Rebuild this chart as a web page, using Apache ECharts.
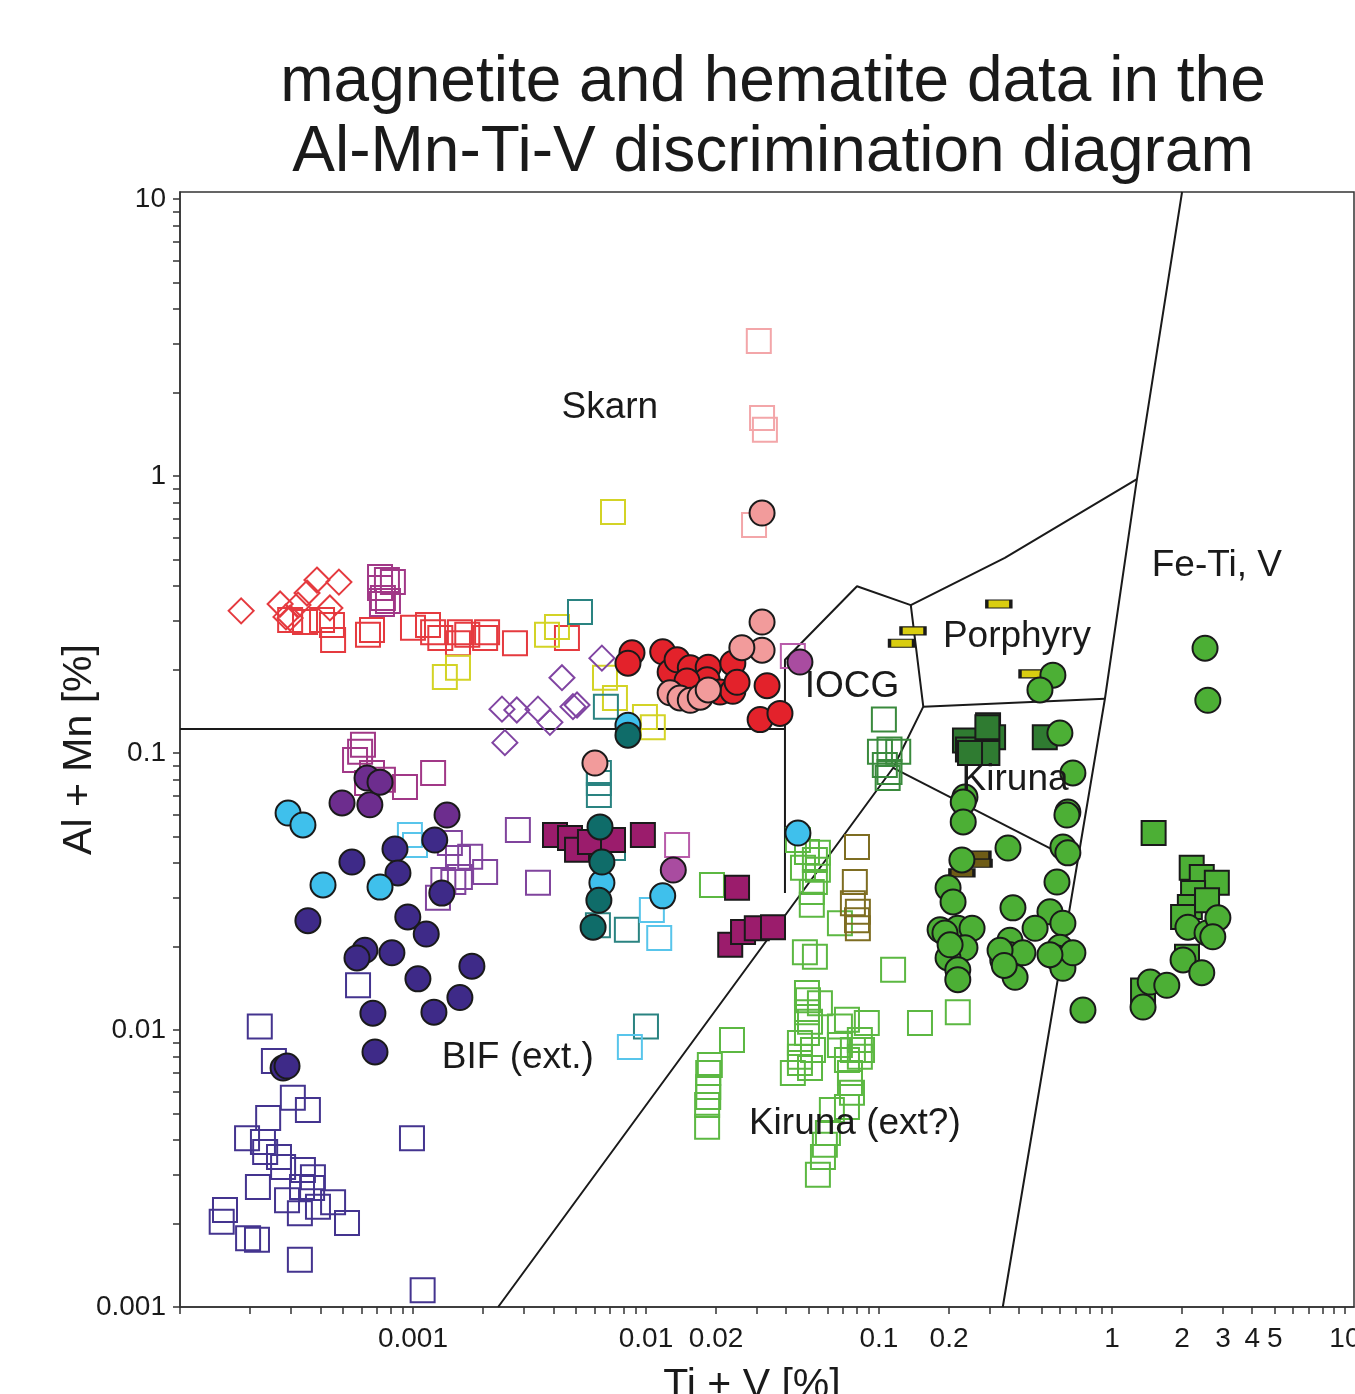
<!DOCTYPE html>
<html>
<head>
<meta charset="utf-8">
<script src="https://cdn.jsdelivr.net/npm/echarts@6/dist/echarts.min.js"></script>
<style>
html,body{margin:0;padding:0;background:#fff;overflow:hidden;}
#chart{width:1355px;height:1394px;}
</style>
</head>
<body>
<div id="chart"></div>
<script>
// ---------- axis ticks / labels ----------
const xTickValues = [0.001, 0.01, 0.02, 0.1, 0.2, 1, 2, 3, 4, 5, 10];
const xTickLabels = ['0.001', '0.01', '0.02', '0.1', '0.2', '1', '2', '3', '4', '5', '10'];
const yTickValues = [0.001, 0.01, 0.1, 1, 10];
const yTickLabels = ['0.001', '0.01', '0.1', '1', '10'];
const xRange = [0.0001, 10.94];
const yRange = [0.001, 10.6];

// ---------- field boundaries (Ti+V, Al+Mn) ----------
const bndBIF = [[1e-4, 0.122], [3.95e-2, 0.122]];
const bndIOCG = [[3.95e-2, 0.0312], [3.95e-2, 0.217], [8.05e-2, 0.400], [0.137, 0.342], [0.347, 0.506], [1.28, 0.975]];
const bndPorph = [[0.137, 0.342], [0.155, 0.147], [0.933, 0.157]];
const bndDiag = [[2.32e-3, 0.001], [0.115, 0.0883], [0.155, 0.147]];
const bndKiruna = [[0.115, 0.0883], [0.708, 0.0404]];
const bndFeTi = [[2.0, 10.6], [1.28, 0.975], [0.933, 0.157], [0.340, 0.001]];

// ---------- field labels ----------
const fieldNames = ['Skarn', 'IOCG', 'Porphyry', 'Fe-Ti, V', 'Kiruna', 'BIF (ext.)', 'Kiruna (ext?)'];
const fieldPos = [[7.0e-3, 1.76], [7.66e-2, 0.173], [0.391, 0.262], [2.82, 0.473], [0.384, 0.080], [2.82e-3, 0.00792], [7.88e-2, 0.00458]];

// ---------- data series ----------
const redOpenDiamond = [[1.83e-4,0.326],[2.69e-4,0.345],[2.85e-4,0.310],[3.21e-4,0.342],[3.51e-4,0.378],[3.87e-4,0.421],[4.81e-4,0.414],[4.40e-4,0.334],[2.97e-4,0.307]];
const redOpenSquare = [[2.97e-4,0.302],[3.44e-4,0.297],[4.07e-4,0.302],[4.49e-4,0.290],[4.54e-4,0.256],[6.41e-4,0.267],[6.67e-4,0.278],[1.0e-3,0.283],[1.16e-3,0.290],[1.22e-3,0.273],[1.31e-3,0.260],[1.59e-3,0.273],[1.71e-3,0.267],[1.56e-3,0.249],[2.08e-3,0.273],[2.04e-3,0.260],[2.74e-3,0.249],[4.58e-3,0.260]];
const magentaOpenSquare = [[7.22e-4,0.432],[7.73e-4,0.421],[8.2e-4,0.414],[7.22e-4,0.394],[7.43e-4,0.363],[7.81e-4,0.354],[7.36e-4,0.345],[6.1e-4,0.107],[5.93e-4,0.101],[5.64e-4,0.0944],[6.67e-4,0.0847],[6.35e-4,0.0779],[7.43e-4,0.080],[9.24e-4,0.0754],[1.22e-3,0.0847]];
const yellowOpenSquare = [[7.22e-3,0.741],[3.76e-3,0.267],[4.15e-3,0.285],[1.37e-3,0.188],[1.56e-3,0.203],[6.67e-3,0.187],[7.36e-3,0.158],[9.9e-3,0.135],[1.07e-2,0.124]];
const tealOpenSquare = [[5.21e-3,0.323],[6.73e-3,0.147],[6.28e-3,0.0847],[6.28e-3,0.0779],[6.28e-3,0.0705],[7.22e-3,0.0454],[6.22e-3,0.0239],[8.28e-3,0.0230],[1.0e-2,0.0103]];
const purpleOpenDiamond = [[6.47e-3,0.220],[4.36e-3,0.187],[2.41e-3,0.144],[2.79e-3,0.143],[3.44e-3,0.144],[3.87e-3,0.129],[4.86e-3,0.147],[5.06e-3,0.149],[2.48e-3,0.109]];
const pinkOpenSquare = [[3.05e-2,3.07],[3.15e-2,1.62],[3.24e-2,1.47],[2.91e-2,0.665]];
const orchidOpenSquare = [[4.27e-2,0.224],[1.36e-2,0.0465]];
const purpleOpenSquare = [[1.44e-3,0.0473],[1.56e-3,0.0418],[1.76e-3,0.0422],[2.04e-3,0.0372],[1.35e-3,0.0348],[1.49e-3,0.0342],[1.59e-3,0.0357],[1.28e-3,0.0300],[2.82e-3,0.0527],[3.44e-3,0.0340]];
const skyOpenSquare = [[9.7e-4,0.0506],[1.02e-3,0.0465],[1.06e-2,0.0271],[1.14e-2,0.0215],[8.53e-3,0.00868]];
const indigoOpenSquare = [[2.20e-4,0.0103],[2.53e-4,0.00773],[3.05e-4,0.00569],[3.54e-4,0.00514],[2.39e-4,0.00481],[1.94e-4,0.00407],[2.27e-4,0.00394],[2.32e-4,0.00363],[2.66e-4,0.00348],[2.77e-4,0.00320],[2.16e-4,0.00271],[3.37e-4,0.00312],[3.72e-4,0.00294],[3.34e-4,0.00271],[3.69e-4,0.00269],[2.88e-4,0.00243],[3.91e-4,0.00230],[4.54e-4,0.00239],[3.27e-4,0.00218],[5.21e-4,0.00201],[1.56e-4,0.00224],[1.51e-4,0.00203],[1.96e-4,0.00177],[2.14e-4,0.00175],[3.27e-4,0.00148],[9.9e-4,0.00407],[1.10e-3,0.00115],[5.81e-4,0.0145]];
const greenOpenSquare = [[4.49e-2,0.0485],[4.91e-2,0.0439],[5.47e-2,0.0436],[5.31e-2,0.0411],[4.72e-2,0.0385],[5.47e-2,0.0379],[5.31e-2,0.0342],[5.15e-2,0.0315],[5.15e-2,0.0283],[6.80e-2,0.0243],[4.81e-2,0.0191],[5.31e-2,0.0184],[1.92e-2,0.0334],[2.34e-2,0.0092],[1.88e-2,0.00748],[1.85e-2,0.0070],[1.85e-2,0.00622],[1.85e-2,0.00573],[1.83e-2,0.00536],[1.83e-2,0.00447],[0.115,0.0165],[0.150,0.0106],[0.218,0.0116],[4.91e-2,0.0136],[4.96e-2,0.0128],[5.58e-2,0.0125],[4.91e-2,0.0116],[5.06e-2,0.0107],[4.91e-2,0.00975],[4.58e-2,0.00897],[5.21e-2,0.00847],[4.58e-2,0.0080],[4.27e-2,0.0070],[5.06e-2,0.00729],[7.29e-2,0.0109],[8.87e-2,0.0106],[6.80e-2,0.0103],[8.28e-2,0.0092],[7.73e-2,0.00847],[7.29e-2,0.00779],[8.28e-2,0.0080],[7.51e-2,0.0070],[7.51e-2,0.00644],[7.66e-2,0.00593],[7.29e-2,0.00527],[6.28e-2,0.00514],[6.04e-2,0.00425],[5.86e-2,0.00385],[5.75e-2,0.00348],[5.47e-2,0.0030],[6.80e-2,0.00883],[4.58e-2,0.0076],[8.46e-2,0.00847]];
const darkGreenOpenSquare = [[0.105,0.132],[0.101,0.101],[0.111,0.103],[0.121,0.101],[0.106,0.0905],[0.111,0.0854],[0.109,0.0812]];
const oliveOpenSquare = [[8.05e-2,0.0458],[7.88e-2,0.0342],[7.73e-2,0.0287],[8.12e-2,0.0267],[8.05e-2,0.0249],[8.12e-2,0.0233]];

const magentaSquare = [[4.07e-3,0.0506],[4.72e-3,0.0493],[5.06e-3,0.0447],[5.75e-3,0.0477],[7.22e-3,0.0485],[9.7e-3,0.0506],[2.46e-2,0.0326],[2.30e-2,0.0203],[2.61e-2,0.0226],[2.99e-2,0.0233],[3.51e-2,0.0235]];
const darkGreenSquare = [[0.234,0.111],[0.241,0.103],[0.294,0.126],[0.309,0.114],[0.292,0.100],[0.246,0.100],[0.515,0.114],[0.292,0.124]];
const greenSquare = [[1.51,0.0514],[2.20,0.0385],[2.43,0.0357],[2.82,0.034],[2.23,0.0312],[2.16,0.0278],[2.02,0.0256],[2.56,0.0294],[2.10,0.0184],[1.36,0.0139]];
const oliveBar = [[0.266,0.0428],[0.269,0.040],[0.227,0.0369]];
const yellowBar = [[0.327,0.345],[0.140,0.276],[0.125,0.249],[0.454,0.193]];

const redCircle = [[8.71e-3,0.230],[8.37e-3,0.211],[1.18e-2,0.232],[1.27e-2,0.196],[1.36e-2,0.217],[1.55e-2,0.203],[1.85e-2,0.204],[2.36e-2,0.211],[1.83e-2,0.184],[2.08e-2,0.166],[2.36e-2,0.167],[2.46e-2,0.180],[3.31e-2,0.175],[3.09e-2,0.132],[3.76e-2,0.139],[1.50e-2,0.182]];
const pinkCircle = [[3.15e-2,0.735],[3.15e-2,0.297],[3.15e-2,0.235],[2.58e-2,0.240],[1.27e-2,0.165],[1.40e-2,0.158],[1.55e-2,0.155],[1.71e-2,0.159],[1.85e-2,0.169],[6.04e-3,0.092]];
const orchidCircle = [[4.58e-2,0.213],[1.31e-2,0.0378]];
const skyCircle = [[2.91e-4,0.0607],[3.37e-4,0.055],[4.11e-4,0.0334],[7.22e-4,0.0328],[6.47e-3,0.034],[1.18e-2,0.0305],[8.37e-3,0.126],[4.49e-2,0.0514]];
const tealCircle = [[8.37e-3,0.116],[6.35e-3,0.0541],[6.47e-3,0.0404],[6.28e-3,0.0294],[5.93e-3,0.0235]];
const purpleCircle = [[4.96e-4,0.066],[6.53e-4,0.065],[6.35e-4,0.0812],[7.22e-4,0.0785],[1.40e-3,0.0597]];
const indigoCircle = [[1.24e-3,0.0485],[5.47e-4,0.0404],[8.37e-4,0.045],[8.62e-4,0.0369],[1.33e-3,0.0312],[3.54e-4,0.0248],[9.5e-4,0.0256],[1.14e-3,0.0222],[6.22e-4,0.0194],[5.75e-4,0.0182],[8.12e-4,0.019],[1.79e-3,0.017],[1.05e-3,0.0153],[1.59e-3,0.0131],[6.73e-4,0.0115],[1.23e-3,0.0116],[6.87e-4,0.00833],[2.77e-4,0.00729],[2.88e-4,0.00741]];
const greenCircle = [[0.558,0.191],[0.491,0.169],[0.598,0.118],[0.680,0.0847],[0.234,0.0693],[0.647,0.0612],[0.230,0.0665],[0.230,0.0564],[0.358,0.0454],[0.641,0.0597],[0.616,0.0458],[0.647,0.0436],[0.227,0.0411],[0.581,0.0342],[0.198,0.0326],[0.208,0.029],[0.376,0.0276],[0.542,0.0267],[0.616,0.0243],[0.468,0.0233],[0.183,0.023],[0.218,0.0233],[0.251,0.0233],[0.234,0.0198],[0.198,0.0182],[0.218,0.0165],[0.218,0.0152],[0.365,0.0211],[0.365,0.0187],[0.340,0.0179],[0.384,0.0155],[0.415,0.019],[0.598,0.0199],[0.581,0.0182],[0.616,0.0167],[0.680,0.019],[0.751,0.0118],[0.192,0.0224],[0.202,0.0203],[0.331,0.0194],[0.345,0.0171],[0.542,0.0187],[2.12,0.0235],[2.56,0.0224],[2.85,0.0254],[2.71,0.0217],[2.02,0.0179],[2.43,0.0161],[1.46,0.0149],[1.72,0.0145],[1.36,0.0121],[2.51,0.239],[2.58,0.155]];

// ---------- build ----------
const FONT = "'Liberation Sans', Arial, sans-serif";
const TXT = '#1a1a1a';
const minorTicks = (lo, hi) => {
  const out = [];
  for (let e = -5; e <= 2; e++) for (let m = 1; m <= 9; m++) {
    const v = m * Math.pow(10, e);
    if (v >= lo * 0.999 && v <= hi * 1.001) out.push(Math.log10(v));
  }
  return out;
};
const labelFmt = (vals, labels) => (v) => {
  const i = vals.findIndex(t => Math.abs(Math.log10(t) - v) < 1e-6);
  return i >= 0 ? labels[i] : '';
};

function openSym(data, symbol, color, size) {
  return { type: 'scatter', data, symbol, symbolSize: size || 24, z: 3,
    itemStyle: { color: 'rgba(255,255,255,0)', borderColor: color, borderWidth: 2, opacity: 1 } };
}
function fillSym(data, symbol, color, size, z) {
  return { type: 'scatter', data, symbol, symbolSize: size || 25, z: z || 5,
    itemStyle: { color, borderColor: '#1a1a1a', borderWidth: 2, opacity: 1 } };
}
function bnd(data) {
  return { type: 'line', data, showSymbol: false, symbol: 'none', silent: true, z: 2,
    lineStyle: { color: '#1a1a1a', width: 2, opacity: 1 } };
}

const series = [
  bnd(bndBIF), bnd(bndIOCG), bnd(bndPorph), bnd(bndDiag), bnd(bndKiruna), bnd(bndFeTi),
  openSym(indigoOpenSquare, 'rect', '#44348f'),
  openSym(greenOpenSquare, 'rect', '#5cb842'),
  openSym(darkGreenOpenSquare, 'rect', '#3a8a3d'),
  openSym(oliveOpenSquare, 'rect', '#7e6d22'),
  openSym(redOpenSquare, 'rect', '#e53a3f'),
  openSym(redOpenDiamond, 'diamond', '#e53a3f', 25),
  openSym(magentaOpenSquare, 'rect', '#a13887'),
  openSym(yellowOpenSquare, 'rect', '#d3d326'),
  openSym(tealOpenSquare, 'rect', '#2a8381'),
  openSym(purpleOpenDiamond, 'diamond', '#8044a2', 25),
  openSym(pinkOpenSquare, 'rect', '#f3a6a9'),
  openSym(orchidOpenSquare, 'rect', '#b85caa'),
  openSym(purpleOpenSquare, 'rect', '#80449d'),
  openSym(skyOpenSquare, 'rect', '#58c5eb'),
  fillSym(magentaSquare, 'rect', '#9b1c6c', 24),
  fillSym(darkGreenSquare, 'rect', '#2f7b31', 24),
  fillSym(greenSquare, 'rect', '#4caf35', 24),
  fillSym(oliveBar, 'rect', '#6e5c16', [24, 8]),
  fillSym(yellowBar, 'rect', '#d9cd10', [24, 8]),
  fillSym(indigoCircle, 'circle', '#3e2a88'),
  fillSym(purpleCircle, 'circle', '#6d2d8e'),
  fillSym(skyCircle, 'circle', '#3fc0ec'),
  fillSym(tealCircle, 'circle', '#0f6c69'),
  fillSym(redCircle, 'circle', '#e3222b'),
  fillSym(pinkCircle, 'circle', '#f29b9b'),
  fillSym(orchidCircle, 'circle', '#a94ca0'),
  fillSym(greenCircle, 'circle', '#4caf35'),
  { type: 'scatter', symbolSize: 0, z: 20, silent: true, itemStyle: { opacity: 1 },
    data: fieldNames.map((n, i) => ({ name: n, value: fieldPos[i] })),
    label: { show: true, position: 'inside', formatter: '{b}', fontSize: 37, color: TXT, opacity: 1, fontFamily: FONT } }
];
series.forEach(s => { s.xAxisIndex = 0; s.yAxisIndex = 0; s.animation = false; });

const chart = echarts.init(document.getElementById('chart'), null, { renderer: 'canvas' });
chart.setOption({
  backgroundColor: '#ffffff',
  animation: false,
  title: {
    text: 'magnetite and hematite data in the\nAl-Mn-Ti-V discrimination diagram',
    left: 768, top: 43, textAlign: 'center',
    textStyle: { fontSize: 64, fontWeight: 'normal', color: TXT, fontFamily: FONT, lineHeight: 70 }
  },
  grid: { left: 180, top: 192, right: 1, bottom: 87, outerBoundsMode: 'none', containLabel: false,
    show: true, borderColor: '#333', borderWidth: 1.5, backgroundColor: 'transparent' },
  xAxis: [
    { type: 'log', logBase: 10, min: xRange[0], max: xRange[1], position: 'top',
      axisLine: { show: false }, axisTick: { show: false }, axisLabel: { show: false }, splitLine: { show: false } },
    { type: 'value', min: Math.log10(xRange[0]), max: Math.log10(xRange[1]), position: 'bottom',
      name: 'Ti + V [%]', nameLocation: 'middle', nameGap: 58,
      nameTextStyle: { fontSize: 41, color: TXT, fontFamily: FONT, padding: [0, 30, 0, 0] },
      axisLine: { show: true, lineStyle: { color: '#333', width: 1.5 } },
      axisTick: { show: true, length: 7, customValues: minorTicks(xRange[0], xRange[1]), lineStyle: { color: '#333', width: 1.5 } },
      axisLabel: { show: true, customValues: xTickValues.map(Math.log10), formatter: labelFmt(xTickValues, xTickLabels),
        fontSize: 28, color: TXT, fontFamily: FONT, margin: 18, hideOverlap: false },
      splitLine: { show: false } }
  ],
  yAxis: [
    { type: 'log', logBase: 10, min: yRange[0], max: yRange[1], position: 'right',
      axisLine: { show: false }, axisTick: { show: false }, axisLabel: { show: false }, splitLine: { show: false } },
    { type: 'value', min: Math.log10(yRange[0]), max: Math.log10(yRange[1]), position: 'left',
      name: 'Al + Mn [%]', nameLocation: 'middle', nameGap: 80, nameRotate: 90, nameMoveOverlap: false,
      nameTextStyle: { fontSize: 41, color: TXT, fontFamily: FONT },
      axisLine: { show: true, lineStyle: { color: '#333', width: 1.5 } },
      axisTick: { show: true, length: 7, customValues: minorTicks(yRange[0], yRange[1]), lineStyle: { color: '#333', width: 1.5 } },
      axisLabel: { show: true, customValues: yTickValues.map(Math.log10), formatter: labelFmt(yTickValues, yTickLabels),
        fontSize: 28, color: TXT, fontFamily: FONT, margin: 14, hideOverlap: false },
      splitLine: { show: false } }
  ],
  series
});
</script>
</body>
</html>
